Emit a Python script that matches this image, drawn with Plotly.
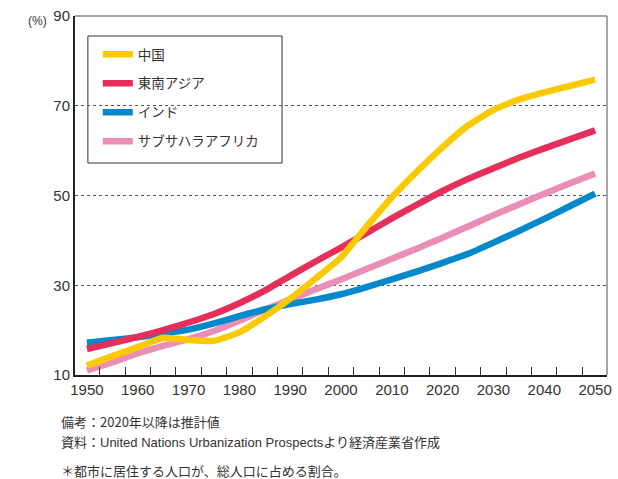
import numpy as np
import plotly.graph_objects as go

years = [1950, 1955, 1960, 1965, 1970, 1975, 1980, 1985, 1990, 1995, 2000,
         2005, 2010, 2015, 2020, 2025, 2030, 2035, 2040, 2045, 2050]

china = [12.1, 14.2, 16.2, 18.3, 17.8, 17.6, 19.5, 23.0, 27.0, 31.5, 36.2,
         43.0, 49.6, 55.4, 60.8, 65.6, 69.1, 71.4, 73.0, 74.4, 75.8]
se_asia = [15.8, 17.1, 18.5, 20.0, 21.7, 23.6, 26.0, 28.8, 32.1, 35.3, 38.4,
           41.6, 44.9, 48.0, 51.0, 53.7, 56.1, 58.4, 60.5, 62.5, 64.5]
india = [17.2, 17.8, 18.4, 19.2, 20.1, 21.5, 23.1, 24.6, 25.8, 26.8, 28.0,
         29.6, 31.3, 33.1, 35.0, 37.0, 39.5, 42.1, 44.8, 47.6, 50.4]
ssa = [11.0, 12.8, 14.8, 16.5, 18.0, 19.8, 22.1, 24.6, 26.8, 29.1, 31.3,
       33.6, 35.9, 38.2, 40.6, 43.1, 45.6, 48.0, 50.4, 52.7, 54.9]

names = ["中国", "東南アジア", "インド", "サブサハラアフリカ"]
colors = ["#FBC900", "#E62E5A", "#0388CC", "#EA8EB8"]
series = [china, se_asia, india, ssa]

x_ticks = [1950, 1960, 1970, 1980, 1990, 2000, 2010, 2020, 2030, 2040, 2050]
y_ticks = [10, 30, 50, 70, 90]

TXT = "#333333"
FONT = "Liberation Sans, Arial, Noto Sans CJK JP, sans-serif"
JFONT = "Noto Sans CJK JP, Liberation Sans, sans-serif"

fig = go.Figure()
# draw order: pink, blue, red, yellow (yellow on top)
for i in [3, 2, 1, 0]:
    fig.add_trace(go.Scatter(
        x=years, y=series[i], mode="lines", name=names[i],
        line=dict(color=colors[i], width=6.5, shape="spline", smoothing=0.4),
        legendgroup=names[i], legendrank=i + 1,
    ))

minor_vals = list(np.arange(1952.5, 2050, 5))

fig.update_layout(
    width=618, height=479,
    margin=dict(l=75, r=6, t=16, b=104),
    paper_bgcolor="white", plot_bgcolor="white",
    font=dict(family=FONT, color=TXT, size=15),
    showlegend=True,
    legend=dict(
        x=(98 - 75) / 537, y=(375 - 39) / 359, xanchor="left", yanchor="top",
        bgcolor="rgba(0,0,0,0)", borderwidth=0,
        font=dict(family=JFONT, size=13.5, color=TXT),
        traceorder="grouped", tracegroupgap=8.4,
    ),
    xaxis=dict(
        range=[1947.66, 2052.34], tickmode="array", tickvals=x_ticks,
        ticktext=[str(v) for v in x_ticks], ticks="",
        showgrid=False, zeroline=False,
        showline=True, linecolor="#222222", linewidth=2,
        tickfont=dict(size=15, family=FONT, color=TXT),
        minor=dict(tickmode="array", tickvals=minor_vals, ticks="inside",
                   ticklen=8, tickwidth=1, tickcolor="#333333", showgrid=False),
    ),
    yaxis=dict(
        range=[10, 90], tickmode="array", tickvals=y_ticks,
        ticktext=[str(v) for v in y_ticks], ticks="",
        showgrid=True, gridcolor="#555555", gridwidth=1, griddash="3px,3px",
        zeroline=False,
        showline=True, linecolor="#222222", linewidth=2,
        tickfont=dict(size=15, family=FONT, color=TXT),
    ),
    shapes=[
        # top and right frame
        dict(type="line", xref="paper", yref="paper", x0=0, x1=1, y0=1, y1=1,
             line=dict(color="#888888", width=1.5), layer="above"),
        dict(type="line", xref="paper", yref="paper", x0=1, x1=1, y0=0, y1=1,
             line=dict(color="#888888", width=1.5), layer="above"),
        # legend box
        dict(type="rect", xref="paper", yref="paper",
             x0=13 / 537, x1=209 / 537, y0=(375 - 163) / 359, y1=(375 - 36) / 359,
             line=dict(color="#333333", width=1), fillcolor="white", layer="between"),
    ],
    annotations=[
        dict(text="(%)", xref="paper", yref="paper", x=(37 - 75) / 537, y=(375 - 21) / 359,
             xanchor="center", yanchor="middle", showarrow=False,
             font=dict(size=12, family=FONT, color=TXT)),
        dict(text="備考：2020年以降は推計値", xref="paper", yref="paper",
             x=(59 - 75) / 537, y=(375 - 421.7) / 359, xanchor="left", yanchor="middle",
             showarrow=False, font=dict(size=13, family=JFONT, color=TXT)),
        dict(text="資料：United Nations Urbanization Prospectsより経済産業省作成",
             xref="paper", yref="paper",
             x=(59 - 75) / 537, y=(375 - 442.7) / 359, xanchor="left", yanchor="middle",
             showarrow=False, font=dict(size=13, family=FONT, color=TXT)),
        dict(text="＊都市に居住する人口が、総人口に占める割合。", xref="paper", yref="paper",
             x=(59 - 75) / 537, y=(375 - 470) / 359, xanchor="left", yanchor="middle",
             showarrow=False, font=dict(size=13, family=JFONT, color=TXT)),
    ],
)

fig.write_html("out.html",
               config={"displayModeBar": False},
               post_script="document.body.style.margin='0';document.body.style.overflow='hidden';")
